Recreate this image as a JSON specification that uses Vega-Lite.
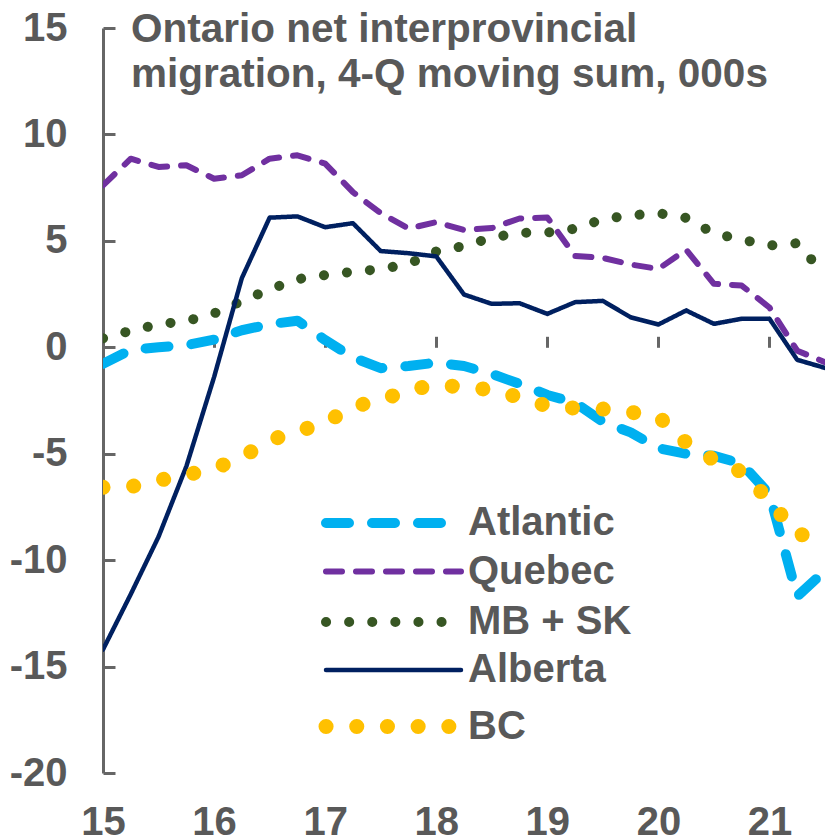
{
  "$schema": "https://vega.github.io/schema/vega-lite/v6.json",
  "width": 722,
  "height": 745,
  "autosize": "none",
  "padding": {"left": 103, "top": 28, "right": 0, "bottom": 63},
  "background": "white",
  "config": {
    "view": {"stroke": null},
    "font": "Liberation Sans",
    "title": {"font": "Liberation Sans", "fontSize": 40.5, "fontWeight": "bold", "color": "#595959", "lineHeight": 45}
  },
  "title": {
    "text": ["Ontario net interprovincial", "migration, 4-Q moving sum, 000s"],
    "anchor": "start",
    "frame": "group",
    "baseline": "top",
    "dx": 28,
    "offset": 0,
    "dy": 87
  },
  "datasets": {
    "series": [
      {"t": 15, "s": "Atlantic", "v": -0.78}, {"t": 15.25, "s": "Atlantic", "v": -0.12}, {"t": 15.5, "s": "Atlantic", "v": 0.0}, {"t": 15.75, "s": "Atlantic", "v": 0.1},
      {"t": 16, "s": "Atlantic", "v": 0.36}, {"t": 16.25, "s": "Atlantic", "v": 0.8}, {"t": 16.5, "s": "Atlantic", "v": 1.08}, {"t": 16.75, "s": "Atlantic", "v": 1.25},
      {"t": 17, "s": "Atlantic", "v": 0.34}, {"t": 17.25, "s": "Atlantic", "v": -0.48}, {"t": 17.5, "s": "Atlantic", "v": -0.98}, {"t": 17.75, "s": "Atlantic", "v": -0.88},
      {"t": 18, "s": "Atlantic", "v": -0.72}, {"t": 18.25, "s": "Atlantic", "v": -0.88}, {"t": 18.5, "s": "Atlantic", "v": -1.25}, {"t": 18.75, "s": "Atlantic", "v": -1.72},
      {"t": 19, "s": "Atlantic", "v": -2.24}, {"t": 19.25, "s": "Atlantic", "v": -2.6}, {"t": 19.5, "s": "Atlantic", "v": -3.5}, {"t": 19.75, "s": "Atlantic", "v": -4.0},
      {"t": 20, "s": "Atlantic", "v": -4.74}, {"t": 20.25, "s": "Atlantic", "v": -5.0}, {"t": 20.5, "s": "Atlantic", "v": -5.1}, {"t": 20.75, "s": "Atlantic", "v": -5.47},
      {"t": 21, "s": "Atlantic", "v": -6.9}, {"t": 21.25, "s": "Atlantic", "v": -11.7}, {"t": 21.5, "s": "Atlantic", "v": -10.5},

      {"t": 15, "s": "Quebec", "v": 7.61}, {"t": 15.25, "s": "Quebec", "v": 8.86}, {"t": 15.5, "s": "Quebec", "v": 8.47}, {"t": 15.75, "s": "Quebec", "v": 8.55},
      {"t": 16, "s": "Quebec", "v": 7.92}, {"t": 16.25, "s": "Quebec", "v": 8.08}, {"t": 16.5, "s": "Quebec", "v": 8.86}, {"t": 16.75, "s": "Quebec", "v": 9.02},
      {"t": 17, "s": "Quebec", "v": 8.63}, {"t": 17.25, "s": "Quebec", "v": 7.29}, {"t": 17.5, "s": "Quebec", "v": 6.3}, {"t": 17.75, "s": "Quebec", "v": 5.58},
      {"t": 18, "s": "Quebec", "v": 5.88}, {"t": 18.25, "s": "Quebec", "v": 5.51}, {"t": 18.5, "s": "Quebec", "v": 5.6}, {"t": 18.75, "s": "Quebec", "v": 6.05},
      {"t": 19, "s": "Quebec", "v": 6.1}, {"t": 19.25, "s": "Quebec", "v": 4.29}, {"t": 19.5, "s": "Quebec", "v": 4.2}, {"t": 19.75, "s": "Quebec", "v": 3.89},
      {"t": 20, "s": "Quebec", "v": 3.68}, {"t": 20.25, "s": "Quebec", "v": 4.58}, {"t": 20.5, "s": "Quebec", "v": 2.98}, {"t": 20.75, "s": "Quebec", "v": 2.9},
      {"t": 21, "s": "Quebec", "v": 1.87}, {"t": 21.25, "s": "Quebec", "v": -0.16}, {"t": 21.5, "s": "Quebec", "v": -0.7},

      {"t": 15, "s": "MB + SK", "v": 0.42}, {"t": 15.25, "s": "MB + SK", "v": 0.78}, {"t": 15.5, "s": "MB + SK", "v": 1.08}, {"t": 15.75, "s": "MB + SK", "v": 1.23},
      {"t": 16, "s": "MB + SK", "v": 1.59}, {"t": 16.25, "s": "MB + SK", "v": 2.17}, {"t": 16.5, "s": "MB + SK", "v": 2.72}, {"t": 16.75, "s": "MB + SK", "v": 3.2},
      {"t": 17, "s": "MB + SK", "v": 3.39}, {"t": 17.25, "s": "MB + SK", "v": 3.55}, {"t": 17.5, "s": "MB + SK", "v": 3.67}, {"t": 17.75, "s": "MB + SK", "v": 3.92},
      {"t": 18, "s": "MB + SK", "v": 4.5}, {"t": 18.25, "s": "MB + SK", "v": 4.76}, {"t": 18.5, "s": "MB + SK", "v": 5.15}, {"t": 18.75, "s": "MB + SK", "v": 5.38},
      {"t": 19, "s": "MB + SK", "v": 5.39}, {"t": 19.25, "s": "MB + SK", "v": 5.57}, {"t": 19.5, "s": "MB + SK", "v": 6.02}, {"t": 19.75, "s": "MB + SK", "v": 6.2},
      {"t": 20, "s": "MB + SK", "v": 6.3}, {"t": 20.25, "s": "MB + SK", "v": 6.08}, {"t": 20.5, "s": "MB + SK", "v": 5.35}, {"t": 20.75, "s": "MB + SK", "v": 5.06},
      {"t": 21, "s": "MB + SK", "v": 4.78}, {"t": 21.25, "s": "MB + SK", "v": 4.89}, {"t": 21.5, "s": "MB + SK", "v": 3.4},

      {"t": 15, "s": "Alberta", "v": -14.2}, {"t": 15.25, "s": "Alberta", "v": -11.6}, {"t": 15.5, "s": "Alberta", "v": -8.9}, {"t": 15.75, "s": "Alberta", "v": -5.6},
      {"t": 16, "s": "Alberta", "v": -1.4}, {"t": 16.25, "s": "Alberta", "v": 3.25}, {"t": 16.5, "s": "Alberta", "v": 6.09}, {"t": 16.75, "s": "Alberta", "v": 6.15},
      {"t": 17, "s": "Alberta", "v": 5.64}, {"t": 17.25, "s": "Alberta", "v": 5.83}, {"t": 17.5, "s": "Alberta", "v": 4.52}, {"t": 17.75, "s": "Alberta", "v": 4.42},
      {"t": 18, "s": "Alberta", "v": 4.27}, {"t": 18.25, "s": "Alberta", "v": 2.48}, {"t": 18.5, "s": "Alberta", "v": 2.04}, {"t": 18.75, "s": "Alberta", "v": 2.07},
      {"t": 19, "s": "Alberta", "v": 1.57}, {"t": 19.25, "s": "Alberta", "v": 2.12}, {"t": 19.5, "s": "Alberta", "v": 2.18}, {"t": 19.75, "s": "Alberta", "v": 1.41},
      {"t": 20, "s": "Alberta", "v": 1.07}, {"t": 20.25, "s": "Alberta", "v": 1.73}, {"t": 20.5, "s": "Alberta", "v": 1.1}, {"t": 20.75, "s": "Alberta", "v": 1.34},
      {"t": 21, "s": "Alberta", "v": 1.34}, {"t": 21.25, "s": "Alberta", "v": -0.59}, {"t": 21.5, "s": "Alberta", "v": -0.97},

      {"t": 15, "s": "BC", "v": -6.58}, {"t": 15.25, "s": "BC", "v": -6.55}, {"t": 15.5, "s": "BC", "v": -6.25}, {"t": 15.75, "s": "BC", "v": -6.0},
      {"t": 16, "s": "BC", "v": -5.7}, {"t": 16.25, "s": "BC", "v": -5.17}, {"t": 16.5, "s": "BC", "v": -4.37}, {"t": 16.75, "s": "BC", "v": -3.95},
      {"t": 17, "s": "BC", "v": -3.55}, {"t": 17.25, "s": "BC", "v": -2.78}, {"t": 17.5, "s": "BC", "v": -2.5}, {"t": 17.75, "s": "BC", "v": -2.0},
      {"t": 18, "s": "BC", "v": -1.78}, {"t": 18.25, "s": "BC", "v": -1.86}, {"t": 18.5, "s": "BC", "v": -2.0}, {"t": 18.75, "s": "BC", "v": -2.35},
      {"t": 19, "s": "BC", "v": -2.76}, {"t": 19.25, "s": "BC", "v": -2.86}, {"t": 19.5, "s": "BC", "v": -2.9}, {"t": 19.75, "s": "BC", "v": -3.05},
      {"t": 20, "s": "BC", "v": -3.25}, {"t": 20.25, "s": "BC", "v": -4.48}, {"t": 20.5, "s": "BC", "v": -5.3}, {"t": 20.75, "s": "BC", "v": -5.85},
      {"t": 21, "s": "BC", "v": -7.2}, {"t": 21.25, "s": "BC", "v": -8.8}, {"t": 21.5, "s": "BC", "v": -8.85}
    ]
  },
  "resolve": {"axis": {"x": "independent", "y": "independent"}},
  "layer": [
    {
      "mark": {"type": "rule", "color": "#666666", "strokeWidth": 3},
      "encoding": {
        "x": {
          "datum": 15, "type": "quantitative",
          "scale": {"domain": [15, 21.5], "nice": false, "zero": false},
          "axis": {
            "orient": "top", "offset": -319.3, "title": null, "labels": false, "domain": false,
            "values": [16, 17, 18, 19, 20, 21], "ticks": true, "tickSize": 11, "tickWidth": 3, "tickColor": "#666666", "grid": false
          }
        },
        "x2": {"datum": 21.5},
        "y": {
          "datum": 0, "type": "quantitative",
          "scale": {"domain": [-20, 15], "nice": false, "zero": false},
          "axis": {
            "orient": "left", "title": null, "values": [-20, -15, -10, -5, 0, 5, 10, 15], "labelExpr": "datum.value",
            "grid": false, "domain": true, "domainColor": "#666666", "domainWidth": 3,
            "ticks": true, "tickSize": -12, "tickWidth": 3, "tickColor": "#666666",
            "labelFont": "Liberation Sans", "labelFontSize": 40, "labelFontWeight": "bold", "labelColor": "#595959",
            "labelPadding": 48, "labelBaseline": "middle"
          }
        }
      }
    },
    {
      "data": {"name": "series"},
      "mark": {"type": "line", "strokeCap": "round", "strokeJoin": "round", "clip": true},
      "encoding": {
        "x": {
          "field": "t", "type": "quantitative",
          "scale": {"domain": [15, 21.5], "nice": false, "zero": false},
          "axis": {
            "orient": "bottom", "title": null, "values": [15, 16, 17, 18, 19, 20, 21], "labelExpr": "datum.value",
            "grid": false, "domain": false, "ticks": false, "tickSize": 0,
            "labelFont": "Liberation Sans", "labelFontSize": 40, "labelFontWeight": "bold", "labelColor": "#595959",
            "labelPadding": 29, "labelBaseline": "top", "labelFlush": false
          }
        },
        "y": {
          "field": "v", "type": "quantitative",
          "scale": {"domain": [-20, 15], "nice": false, "zero": false},
          "axis": null
        },
        "color": {
          "field": "s", "type": "nominal",
          "scale": {"domain": ["Atlantic", "Quebec", "MB + SK", "Alberta", "BC"], "range": ["#00B0F0", "#7030A0", "#375623", "#002060", "#FFC000"]},
          "legend": {
            "title": null, "orient": "none", "legendX": 263, "legendY": 470,
            "symbolType": "M-3.375,0H3.375", "symbolSize": 1600, "labelFont": "Liberation Sans", "labelFontSize": 40, "labelFontWeight": "bold",
            "labelColor": "#595959", "labelOffset": 47, "rowPadding": 5.5, "labelLimit": 500,
            "encode": {"symbols": {"update": {"strokeCap": {"value": "round"}, "fill": {"value": "transparent"}}}}
          }
        },
        "strokeDash": {
          "field": "s", "type": "nominal",
          "scale": {"domain": ["Atlantic", "Quebec", "MB + SK", "Alberta", "BC"], "range": [[23, 23], [16, 14], [0.1, 23], [1, 0], [0.1, 30.6]]},
          "legend": null
        },
        "strokeWidth": {
          "field": "s", "type": "nominal",
          "scale": {"type": "ordinal", "domain": ["Atlantic", "Quebec", "MB + SK", "Alberta", "BC"], "range": [10, 6, 10, 4.5, 15]},
          "legend": null
        }
      }
    }
  ]
}
